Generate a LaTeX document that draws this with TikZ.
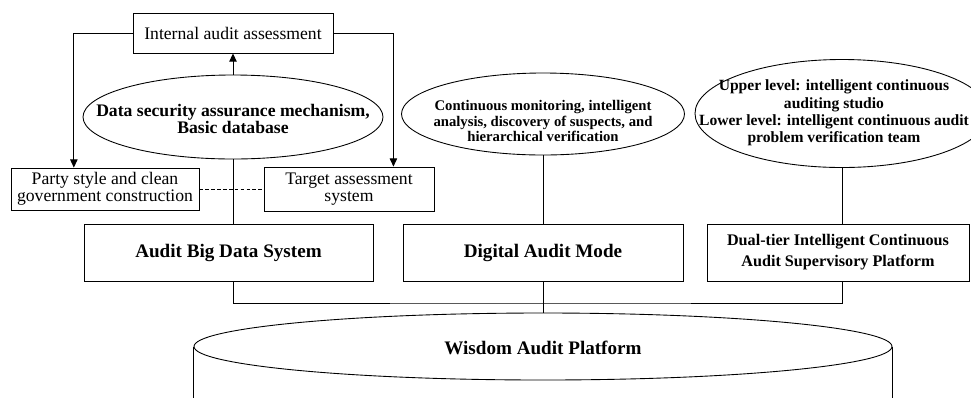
\documentclass[tikz,border=0pt]{standalone}
\usepackage{fontspec}
\setmainfont{Liberation Serif}
\usetikzlibrary{positioning,arrows.meta,calc,shapes.geometric}
\newcommand{\px}{0.68pt}

\begin{document}
\begin{tikzpicture}[x=\px,y=-\px,
    box/.style={draw,rectangle,inner sep=0pt,line width=0.6pt,align=center},
    oval/.style={draw,ellipse,inner sep=0pt,line width=0.6pt},
    link/.style={line width=0.6pt},
    arr/.style={link,-{Triangle[length=5.5pt,width=5pt]}},
    reg/.style={font=\fontsize{12}{11.6}\selectfont,align=center},
    heavy/.style={font=\bfseries\fontsize{12}{11.4}\selectfont,align=center},
    small/.style={font=\bfseries\fontsize{10}{10.5}\selectfont,align=center},
    big/.style={font=\bfseries\fontsize{13}{14}\selectfont,align=center}]
  \useasboundingbox (0,0) rectangle (971,398);

  % assessment loop at the top
  \node[box,reg,minimum width=200*\px,minimum height=40*\px] (iaa) at (233,33)
    {Internal audit assessment};
  \node[box,reg,minimum width=188*\px,minimum height=42*\px] (party) at (105,189)
    {Party style and clean\\government construction};
  \node[box,reg,minimum width=170*\px,minimum height=44*\px] (tas) at (349,189)
    {Target assessment\\system};

  % supporting ellipses
  \node[oval,minimum width=300*\px,minimum height=84*\px] (dsa) at (233,117) {};
  \node[heavy] (dsatxt) at (233,119)
    {Data security assurance mechanism,\\Basic database};
  \node[oval,minimum width=283*\px,minimum height=82*\px] (cmi) at (543,114) {};
  \node[small] (cmitxt) at (543,121)
    {Continuous monitoring, intelligent\\analysis, discovery of suspects, and\\hierarchical verification};
  \node[oval,minimum width=294*\px,minimum height=108*\px] (lvl) at (842,113.5) {};
  \node[font=\bfseries\fontsize{10.6}{11.8}\selectfont,align=center] (lvltxt) at (834,113)
    {Upper level: intelligent continuous\\auditing studio\\Lower level: intelligent continuous audit\\problem verification team};

  % the three pillars
  \node[box,big,minimum width=289*\px,minimum height=57*\px] (abd) at (228.5,252.5)
    {Audit Big Data System};
  \node[box,big,minimum width=280*\px,minimum height=57*\px] (dam) at (543,252.5)
    {Digital Audit Mode};
  \node[box,font=\bfseries\fontsize{11}{14.3}\selectfont,minimum width=262*\px,minimum height=57*\px] (dual) at (838,252.5)
    {Dual-tier Intelligent Continuous\\Audit Supervisory Platform};

  % platform cylinder
  \node[oval,minimum width=698*\px,minimum height=67*\px] (wap) at (543,346.5) {};
  \node[big] (waptxt) at (543,348) {Wisdom Audit Platform};
  \draw[link] (wap.west) -- (wap.west |- 0,398);
  \draw[link] (wap.east) -- (wap.east |- 0,398);

  % connectors
  \draw[arr] (dsa.north) -- (iaa.south);
  \draw[arr] (iaa.west) -| ($(party.north west)!0.335!(party.north east)$);
  \draw[arr] (iaa.east) -| ($(tas.north west)!0.76!(tas.north east)$);
  \draw[link,dash pattern=on 2.5pt off 1.5pt] (party.east) -- (tas.west);
  \draw[link] (dsa.south) -- (dsa.south |- abd.north);
  \draw[link] (cmi.south) -- (dam.north);
  \draw[link] (lvl.south) -- (lvl.south |- dual.north);
  \coordinate (bus) at (543,303);
  \draw[link] (dsa.south |- abd.south) |- (bus) -| (lvl.south |- dual.south);
  \draw[link] (dam.south) -- (wap.north);
\end{tikzpicture}
\end{document}
